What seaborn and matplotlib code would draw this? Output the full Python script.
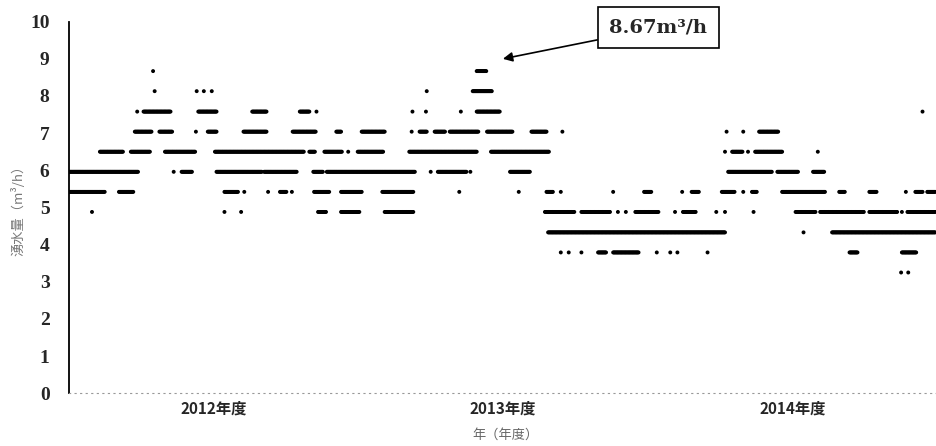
import matplotlib
matplotlib.use("Agg")
import matplotlib.pyplot as plt
import pandas as pd
import seaborn as sns

# Daily inflow readings, stored per flow level as runs of days (start, end),
# counted from the first day of fiscal year 2012.
levels = [8.67, 8.13, 7.58, 7.04, 6.50, 5.96, 5.42, 4.88, 4.33, 3.79, 3.25]

runs_867 = [(106, 106), (514, 526)]
runs_813 = [(108, 108), (161, 161), (170, 170), (180, 180), (451, 451), (509, 533)]
runs_758 = [(86, 86), (94, 128), (163, 186), (231, 249), (291, 303), (312, 312),
            (433, 433), (450, 450), (494, 494), (514, 543), (1076, 1076)]
runs_704 = [(83, 104), (114, 130), (160, 160), (175, 186), (220, 249), (282, 311),
            (337, 343), (369, 398), (432, 432), (442, 451), (461, 474), (480, 516),
            (527, 559), (583, 602), (622, 622), (829, 829), (850, 850), (870, 894)]
runs_650 = [(39, 68), (78, 102), (121, 159), (184, 296), (303, 310), (322, 344),
            (352, 352), (364, 396), (429, 514), (532, 605), (827, 827), (836, 849),
            (856, 856), (865, 899), (944, 944)]
runs_596 = [(0, 87), (132, 132), (142, 155), (186, 243), (246, 287), (308, 320),
            (325, 436), (456, 456), (465, 501), (506, 506), (556, 581), (831, 886),
            (893, 919), (938, 952)]
runs_542 = [(0, 45), (63, 81), (196, 213), (221, 221), (251, 251), (266, 274),
            (281, 281), (309, 328), (343, 369), (395, 434), (492, 492), (567, 567),
            (602, 610), (620, 620), (686, 686), (725, 734), (773, 773), (785, 794),
            (823, 839), (850, 850), (861, 867), (899, 953), (971, 978), (1009, 1018),
            (1055, 1055), (1067, 1076), (1082, 1092)]
runs_488 = [(29, 29), (196, 196), (217, 217), (314, 324), (343, 366), (398, 434),
            (600, 637), (646, 682), (692, 692), (702, 702), (714, 743), (764, 764),
            (774, 790), (816, 816), (827, 827), (863, 863), (916, 941), (947, 1002),
            (1009, 1044), (1050, 1050), (1057, 1092)]
runs_433 = [(604, 827), (926, 926), (962, 1092)]
runs_379 = [(620, 620), (630, 630), (646, 646), (667, 677), (686, 718), (741, 741),
            (758, 758), (767, 767), (805, 805), (984, 994), (1050, 1068)]
runs_325 = [(1049, 1049), (1058, 1058)]

all_runs = [runs_867, runs_813, runs_758, runs_704, runs_650, runs_596,
            runs_542, runs_488, runs_433, runs_379, runs_325]

year_ticks = [182, 547, 912]
year_labels = ["2012年度", "2013年度", "2014年度"]
y_ticks = list(range(0, 11))

peak_label = "8.67m³/h"

rows = []
for level, runs in zip(levels, all_runs):
    for start, end in runs:
        for day in range(start, end + 1):
            rows.append((day, level))
df = pd.DataFrame(rows, columns=["day", "flow"])

sns.set_style("white")
plt.rcParams["font.family"] = ["Noto Sans CJK JP", "DejaVu Sans"]

fig = plt.figure(figsize=(9.36, 4.46), dpi=100)
ax = fig.add_axes([0.0737, 0.1182, 0.928, 0.8332])

sns.scatterplot(data=df, x="day", y="flow", s=8, color="black",
                edgecolor="none", linewidth=0, ax=ax, legend=False)

ax.set_xlim(0, 1095)
ax.set_ylim(0, 10)

ax.set_xticks(year_ticks)
ax.set_xticklabels(year_labels, fontsize=11, fontweight="bold")
ax.set_yticks(y_ticks)
ax.set_yticklabels([str(v) for v in y_ticks], family="Liberation Serif",
                   fontweight="bold", fontsize=14)
ax.tick_params(axis="both", length=0)
ax.tick_params(axis="y", pad=14)
ax.tick_params(axis="x", pad=5)

ax.set_ylabel("湧水量（m³/h）", fontsize=9.5, color="#777777")
ax.yaxis.set_label_coords(-0.05, 0.5)
ax.set_xlabel("年（年度）", fontsize=9.5, color="#666666")
ax.xaxis.set_label_coords(0.502, -0.095)

for side in ("top", "right"):
    ax.spines[side].set_visible(False)
ax.spines["left"].set_color("black")
ax.spines["left"].set_linewidth(1.3)
ax.spines["bottom"].set_color("#999999")
ax.spines["bottom"].set_linewidth(0.8)
ax.spines["bottom"].set_linestyle((0, (1, 4)))

ax.annotate(peak_label, xy=(547, 9.0), xytext=(743, 9.84), textcoords="data",
            ha="center", va="center", fontsize=14, family="DejaVu Serif",
            fontweight="semibold",
            bbox=dict(boxstyle="square,pad=0.6", fc="white", ec="black", lw=1.2),
            arrowprops=dict(arrowstyle="-|>", color="black", lw=1.2,
                            mutation_scale=14, shrinkA=0, shrinkB=0),
            annotation_clip=False)

fig.savefig("out.png", dpi=100)
